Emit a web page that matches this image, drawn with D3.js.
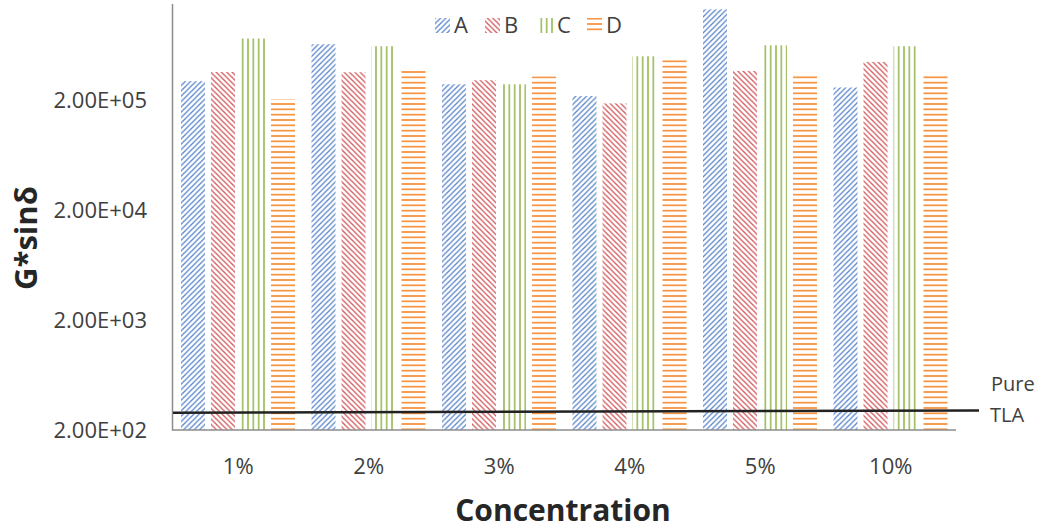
<!DOCTYPE html>
<html><head><meta charset="utf-8">
<script src="https://cdn.jsdelivr.net/npm/d3@7"></script>
<style>body{margin:0;background:#fff}svg{display:block}text{font-family:"Open Sans",sans-serif}</style>
</head><body><svg id="c" width="1041" height="529"></svg>
<script>
const categories = ["1%","2%","3%","4%","5%","10%"];
const seriesNames = ["A","B","C","D"];
const seriesA = [2.98e5, 6.46e5, 2.79e5, 2.18e5, 1.34e6, 2.61e5];
const seriesB = [3.61e5, 3.59e5, 3.04e5, 1.87e5, 3.69e5, 4.46e5];
const seriesC = [7.28e5, 6.19e5, 2.79e5, 5.02e5, 6.32e5, 6.19e5];
const seriesD = [2.04e5, 3.91e5, 3.30e5, 4.89e5, 3.54e5, 3.54e5];
const pureTLA = [287, 301];
const yTickValues = [200, 2000, 20000, 200000];
const yTickLabels = ["2.00E+02","2.00E+03","2.00E+04","2.00E+05"];
const yDomain = [200, 1.5e6];

const seriesValues = [seriesA, seriesB, seriesC, seriesD];
const colors = ["#5b86cc","#d0595c","#9bbb59","#f79646"];

const svg = d3.select("#c");
const L = 173, R = 956, T = 4, B = 430;
const x0 = d3.scaleBand().domain(categories).range([L, R]);
const x1 = d3.scaleBand().domain(seriesNames).range([8, 122]).paddingInner(0.2);
const y = d3.scaleLog().domain(yDomain).range([B, T]);

// patterns
const defs = svg.append("defs");
const P = 16/3;
function pat(id, draw){
  const p = defs.append("pattern").attr("id", id).attr("patternUnits","userSpaceOnUse")
    .attr("width", P).attr("height", P);
  draw(p);
}
pat("pA", p => {
  p.append("path").attr("d", `M0,${P} L${P},0 M${-P/2},${P/2} L${P/2},${-P/2} M${P/2},${P*1.5} L${P*1.5},${P/2}`)
   .attr("stroke", colors[0]).attr("stroke-width", 1.3);
});
pat("pB", p => {
  p.append("path").attr("d", `M0,0 L${P},${P} M${-P/2},${P/2} L${P/2},${P*1.5} M${P/2},${-P/2} L${P*1.5},${P/2}`)
   .attr("stroke", colors[1]).attr("stroke-width", 1.3);
});
pat("pC", p => {
  p.append("rect").attr("x", P/2-0.8).attr("y",0).attr("width",1.6).attr("height",P).attr("fill", colors[2]);
});
pat("pD", p => {
  p.append("rect").attr("x",0).attr("y", P/2-0.9).attr("width",P).attr("height",1.8).attr("fill", colors[3]);
});
const patIds = ["pA","pB","pC","pD"];

// bars
const g = svg.append("g");
categories.forEach((c, i) => {
  seriesNames.forEach((s, j) => {
    const v = seriesValues[j][i];
    g.append("rect")
      .attr("x", x0(c) + x1(s))
      .attr("y", y(v))
      .attr("width", x1.bandwidth())
      .attr("height", B - y(v))
      .attr("fill", `url(#${patIds[j]})`);
  });
});

// axes
svg.append("line").attr("x1", L-0.5).attr("x2", L-0.5).attr("y1", T).attr("y2", B+0.5)
  .attr("stroke", "#8c8c8c").attr("stroke-width", 1.5);
svg.append("line").attr("x1", L-1).attr("x2", R).attr("y1", B).attr("y2", B)
  .attr("stroke", "#8c8c8c").attr("stroke-width", 1.5);

// y tick labels
yTickValues.forEach((v, i) => {
  svg.append("text").attr("x", 147).attr("y", y(v)).attr("dy", "0.35em")
    .attr("text-anchor", "end").attr("font-size", 22).attr("fill", "#404040")
    .text(yTickLabels[i]);
});
// x tick labels
categories.forEach(c => {
  svg.append("text").attr("x", x0(c) + x0.bandwidth()/2).attr("y", 474)
    .attr("text-anchor", "middle").attr("font-size", 22).attr("fill", "#404040").text(c);
});

// pure TLA line
svg.append("line").attr("x1", L).attr("x2", R + 23)
  .attr("y1", y(pureTLA[0])).attr("y2", y(pureTLA[1]))
  .attr("stroke", "#222").attr("stroke-width", 2.5);
svg.append("text").attr("x", 991).attr("y", 391).attr("font-size", 20).attr("fill", "#404040").text("Pure");
svg.append("text").attr("x", 990).attr("y", 422).attr("font-size", 20).attr("fill", "#404040").text("TLA");

// titles
svg.append("text").attr("x", 563).attr("y", 521).attr("text-anchor", "middle")
  .attr("font-size", 30).attr("font-weight", "bold").attr("fill", "#262626").text("Concentration");
svg.append("text").attr("transform", "translate(37,238) rotate(-90)").attr("text-anchor", "middle")
  .attr("font-size", 31).attr("font-weight", "bold").attr("fill", "#262626").text("G*sinδ");

// legend
const legX = [435, 485, 538, 587];
seriesNames.forEach((s, j) => {
  svg.append("rect").attr("x", legX[j]).attr("y", 18).attr("width", 15).attr("height", 15)
    .attr("fill", `url(#${patIds[j]})`);
  svg.append("text").attr("x", legX[j] + 19).attr("y", 33).attr("font-size", 22)
    .attr("fill", "#404040").text(s);
});
</script></body></html>
